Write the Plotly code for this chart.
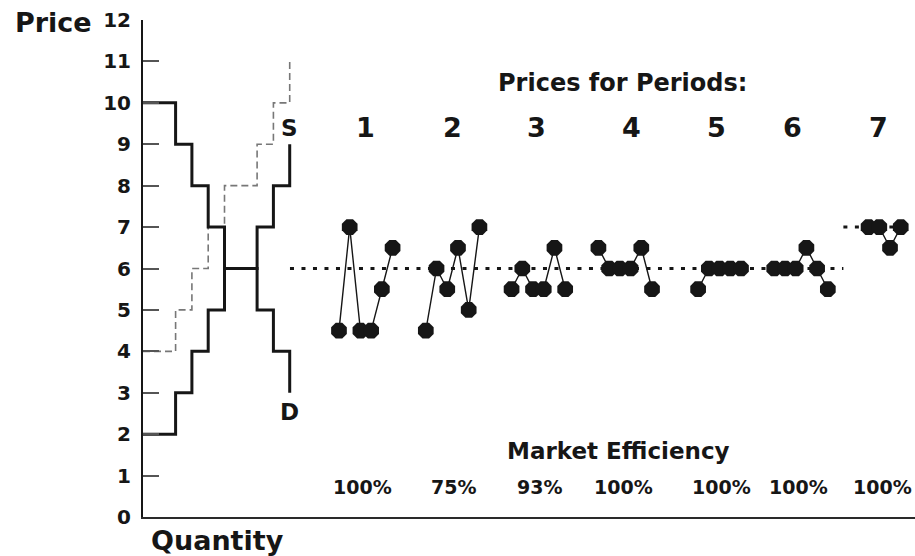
import plotly.graph_objects as go

# ---------------- data ----------------
# Supply / demand step schedules (quantity, price) - step functions
sd_quantity = [0, 2, 3, 4, 5, 7, 8, 9]
supply_price = [2, 3, 4, 5, 6, 7, 8, 9]          # solid supply S
supply_shift_price = [4, 5, 6, 7, 8, 9, 10, 11]  # dashed (shifted) supply
demand_price = [10, 9, 8, 7, 6, 5, 4, 3]         # demand D

# Contract prices by period
period_names = ["1", "2", "3", "4", "5", "6", "7"]
period_prices = [
    [4.5, 7, 4.5, 4.5, 5.5, 6.5],
    [4.5, 6, 5.5, 6.5, 5, 7],
    [5.5, 6, 5.5, 5.5, 6.5, 5.5],
    [6.5, 6, 6, 6, 6.5, 5.5],
    [5.5, 6, 6, 6, 6],
    [6, 6, 6, 6.5, 6, 5.5],
    [7, 7, 6.5, 7],
]
efficiency = ["100%", "75%", "93%", "100%", "100%", "100%", "100%"]
equilibrium_price = [6, 7]

y_ticks = list(range(0, 13))

# ---------------- layout constants ----------------
FONT = "DejaVu Sans"
INK = "#161616"
period_start_slot = [0, 8.1, 16.1, 24.2, 33.5, 40.6, 49.4]
period_label_slot = [2.47, 10.59, 18.47, 27.24, 35.2, 42.3, 50.28]
pct_slot = [2.24, 10.7, 18.75, 26.54, 35.68, 42.82, 50.7]
eq_from = [-4.57, 47.05]
eq_to = [47.05, 52.6]

Q_RANGE = [0, 47.36]
S_RANGE = [-18.28, 53.73]


def steps(q, p):
    xs, ys = [], []
    for i in range(len(q) - 1):
        xs += [q[i], q[i + 1]]
        ys += [p[i], p[i]]
    xs.append(q[-1])
    ys.append(p[-1])
    return xs, ys


fig = go.Figure()

# dashed shifted supply
x, y = steps(sd_quantity, supply_shift_price)
fig.add_trace(go.Scatter(x=x, y=y, mode="lines", xaxis="x", yaxis="y",
                         line=dict(color="#777777", width=1.6, dash="7px,4px"),
                         hoverinfo="skip", showlegend=False))
# demand
x, y = steps(sd_quantity, demand_price)
fig.add_trace(go.Scatter(x=x, y=y, mode="lines", xaxis="x", yaxis="y",
                         line=dict(color=INK, width=3), hoverinfo="skip", showlegend=False))
# supply
x, y = steps(sd_quantity, supply_price)
fig.add_trace(go.Scatter(x=x, y=y, mode="lines", xaxis="x", yaxis="y",
                         line=dict(color=INK, width=3), hoverinfo="skip", showlegend=False))

# equilibrium dotted lines
ex, ey = [], []
for a, b, p in zip(eq_from, eq_to, equilibrium_price):
    ex += [a, b, None]
    ey += [p, p, None]
fig.add_trace(go.Scatter(x=ex, y=ey, mode="lines", xaxis="x2", yaxis="y",
                         line=dict(color=INK, width=3, dash="4px,7.5px"),
                         hoverinfo="skip", showlegend=False))

# price series per period
for start, prices in zip(period_start_slot, period_prices):
    xs = [start + i for i in range(len(prices))]
    fig.add_trace(go.Scatter(x=xs, y=prices, mode="lines+markers", xaxis="x2", yaxis="y",
                             line=dict(color=INK, width=1.4),
                             marker=dict(symbol="octagon", size=17, color=INK, line=dict(width=0)),
                             cliponaxis=False, showlegend=False))

ann = []


def txt(text, x, y, size, xref="x2", yref="y", xanchor="center", yanchor="middle"):
    ann.append(dict(text=text, x=x, y=y, xref=xref, yref=yref, showarrow=False,
                    xanchor=xanchor, yanchor=yanchor,
                    font=dict(family=FONT, size=size, color=INK, weight="bold")))


PLOT_W = 772.0
PLOT_H = 497.0
txt("Price", -49 / PLOT_W, 11.95, 27, xref="paper", xanchor="right")
txt("Quantity", 74 / PLOT_W, -23 / PLOT_H, 27, xref="paper", yref="paper")
txt("S", sd_quantity[-1], 9.4, 23, xref="x")
txt("D", sd_quantity[-1], 2.54, 23, xref="x")
txt("Prices for Periods:", 26.4, 10.48, 24)
txt("Market Efficiency", 26.1, 1.59, 23)
for name, xs in zip(period_names, period_label_slot):
    txt(name, xs, 9.4, 27)
for e, xs in zip(efficiency, pct_slot):
    txt(e, xs, 0.72, 19)

fig.update_layout(
    width=915, height=556,
    margin=dict(l=143, r=0, t=20, b=39),
    paper_bgcolor="white", plot_bgcolor="white",
    annotations=ann,
    xaxis=dict(range=Q_RANGE, showgrid=False, zeroline=False, showticklabels=False,
               ticks="", showline=True, linecolor="#2a2a2a", linewidth=2, fixedrange=True),
    xaxis2=dict(range=S_RANGE, overlaying="x", visible=False, fixedrange=True),
    yaxis=dict(range=[0, 12], tickvals=y_ticks, ticktext=[str(t) for t in y_ticks],
               showgrid=False, zeroline=False, showline=True, linecolor=INK, linewidth=2,
               ticks="inside", ticklen=16, tickwidth=1.5, tickcolor="#555",
               ticklabelstandoff=6,
               tickfont=dict(family=FONT, size=20, color=INK, weight="bold"), fixedrange=True),
)

# remove the default page margin so the 915x556 figure fills the window exactly
fig.write_html(
    "out.html",
    config={"displayModeBar": False},
    post_script="document.body.style.margin='0';document.body.style.overflow='hidden';",
)
